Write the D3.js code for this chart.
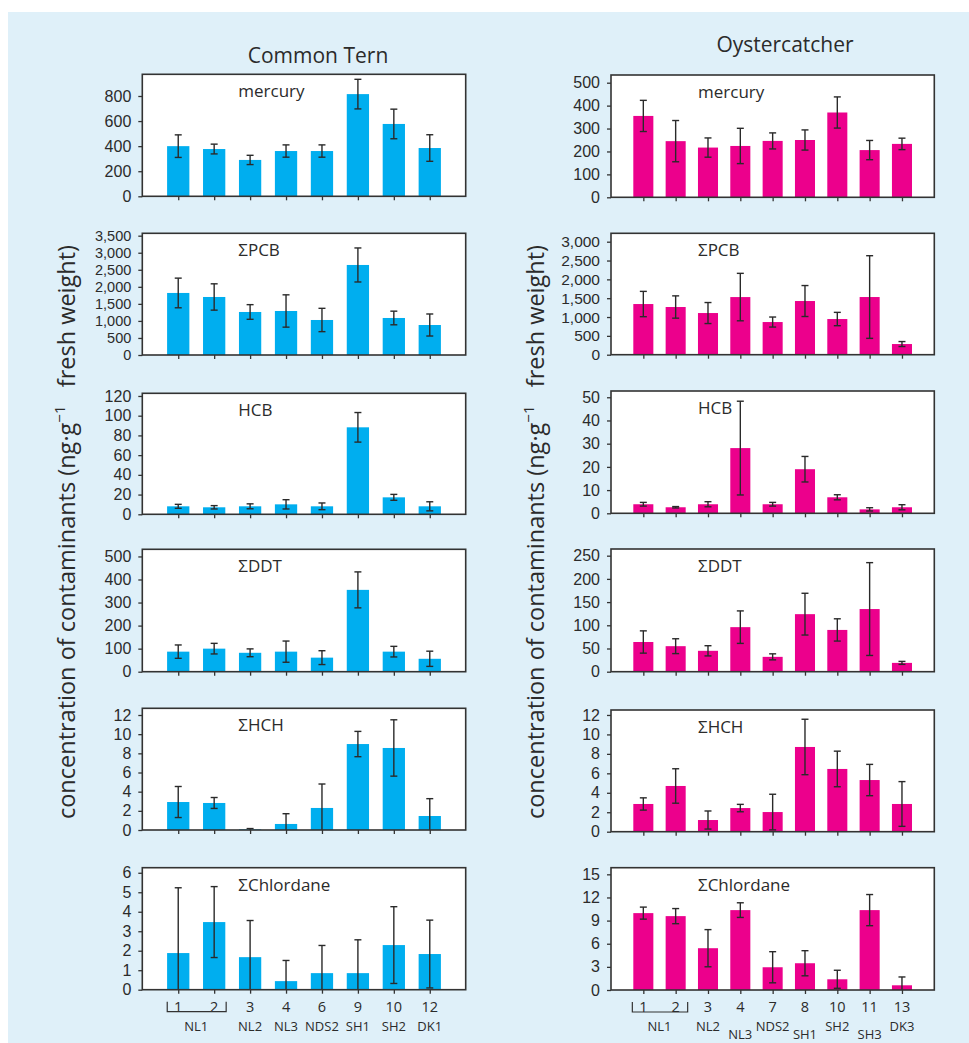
<!DOCTYPE html>
<html>
<head>
<meta charset="utf-8">
<script src="https://cdn.jsdelivr.net/npm/d3@7"></script>
<style>
  html, body { margin: 0; padding: 0; background: #ffffff; }
  svg { display: block; }
  text { font-family: "Open Sans", "DejaVu Sans", sans-serif; fill: #2b2b2b; }
</style>
</head>
<body>
<svg id="chart" width="969" height="1043"></svg>
<script>
// ---- Contaminants (one panel row each) ----
const contaminants = ["mercury", "ΣPCB", "HCB", "ΣDDT", "ΣHCH", "ΣChlordane"];

// ---- Common Tern colonies ----
const ternColonies = ["1", "2", "3", "4", "6", "9", "10", "12"];
const ternSites = ["NL1", "NL1", "NL2", "NL3", "NDS2", "SH1", "SH2", "DK1"];

// ---- Oystercatcher colonies ----
const oysterColonies = ["1", "2", "3", "4", "7", "8", "10", "11", "13"];
const oysterSites = ["NL1", "NL1", "NL2", "NL3", "NDS2", "SH1", "SH2", "SH3", "DK3"];

// ---- Common Tern means and standard deviations (ng/g fresh weight) ----
const ternMercury        = [400, 377, 290, 361, 361, 815, 577, 385];
const ternMercurySd      = [90, 39, 37, 49, 49, 118, 118, 106];
const ternPCB            = [1820, 1702, 1262, 1291, 1027, 2641, 1086, 880];
const ternPCBSd          = [435, 386, 215, 474, 342, 499, 200, 323];
const ternHCB            = [8.1, 7.1, 8.1, 10.1, 8.1, 88.2, 17.2, 8.1];
const ternHCBSd          = [2.0, 1.7, 2.5, 4.7, 3.4, 15, 3.0, 4.6];
const ternDDT            = [87, 100, 82, 87, 61, 355, 87, 56];
const ternDDTSd          = [29, 23, 17, 46, 30, 78, 23, 33];
const ternHCH            = [2.92, 2.82, 0.07, 0.63, 2.30, 8.97, 8.56, 1.46];
const ternHCHSd          = [1.62, 0.57, 0.08, 1.07, 2.50, 1.32, 2.94, 1.81];
const ternChlordane      = [1.88, 3.47, 1.67, 0.44, 0.85, 0.85, 2.29, 1.83];
const ternChlordaneSd    = [3.35, 1.82, 1.88, 1.06, 1.42, 1.71, 1.97, 1.74];

// ---- Oystercatcher means and standard deviations (ng/g fresh weight) ----
const oysterMercury      = [355, 245, 217, 224, 246, 250, 370, 206, 233];
const oysterMercurySd    = [68, 90, 42, 77, 35, 44, 68, 42, 25];
const oysterPCB          = [1345, 1266, 1106, 1530, 867, 1425, 947, 1531, 283];
const oysterPCBSd        = [336, 296, 279, 630, 133, 411, 177, 1097, 66];
const oysterHCB          = [3.9, 2.6, 3.9, 28.1, 3.9, 19.0, 6.9, 1.7, 2.6];
const oysterHCBSd        = [0.8, 0.3, 1.1, 20.2, 0.8, 5.5, 1.1, 0.7, 1.1];
const oysterDDT          = [64, 55, 45, 96, 32, 124, 90, 135, 19];
const oysterDDTSd        = [24, 16, 11, 35, 6.5, 45, 24, 100, 3.2];
const oysterHCH          = [2.85, 4.70, 1.20, 2.43, 2.02, 8.71, 6.45, 5.31, 2.85];
const oysterHCHSd        = [0.63, 1.77, 0.93, 0.38, 1.83, 2.85, 1.83, 1.61, 2.30];
const oysterChlordane    = [9.97, 9.58, 5.42, 10.36, 2.95, 3.47, 1.39, 10.36, 0.61];
const oysterChlordaneSd  = [0.78, 0.98, 2.41, 0.95, 2.02, 1.63, 1.17, 2.02, 1.08];

// ---- Y-axis tick labels per panel ----
const ternTicks = [
  [0, 200, 400, 600, 800],
  [0, 500, 1000, 1500, 2000, 2500, 3000, 3500],
  [0, 20, 40, 60, 80, 100, 120],
  [0, 100, 200, 300, 400, 500],
  [0, 2, 4, 6, 8, 10, 12],
  [0, 1, 2, 3, 4, 5, 6]
];
const oysterTicks = [
  [0, 100, 200, 300, 400, 500],
  [0, 500, 1000, 1500, 2000, 2500, 3000],
  [0, 10, 20, 30, 40, 50],
  [0, 50, 100, 150, 200, 250],
  [0, 2, 4, 6, 8, 10, 12],
  [0, 3, 6, 9, 12, 15]
];
// Upper end of each value axis (top of the plot frame)
const ternYMax   = [973, 3570, 122.7, 531, 12.7, 6.26];
const oysterYMax = [533.6, 3223, 52.7, 264.4, 12.51, 15.86];

// ---- Layout ----
const svg = d3.select("#chart");
svg.append("rect").attr("x", 8).attr("y", 12).attr("width", 961).attr("height", 1031)
  .attr("fill", "#dff0f9");

const columns = [
  {
    title: "Common Tern", titleX: 318, titleY: 63,
    colonies: ternColonies, sites: ternSites,
    means: [ternMercury, ternPCB, ternHCB, ternDDT, ternHCH, ternChlordane],
    sds: [ternMercurySd, ternPCBSd, ternHCBSd, ternDDTSd, ternHCHSd, ternChlordaneSd],
    ticks: ternTicks, ymax: ternYMax,
    tickFont: [16, 14.5, 16, 16, 16, 16],
    color: "#00aeef",
    x0: 142.3, x1: 465.7,
    tops:    [74.3, 233.3, 393.3, 549.3, 708.3, 867.7],
    bottoms: [196.3, 355, 514.3, 671.7, 830, 989.7],
    labelDx: 96, axisTitleX: 75,
    siteRow: {}
  },
  {
    title: "Oystercatcher", titleX: 785, titleY: 52,
    colonies: oysterColonies, sites: oysterSites,
    means: [oysterMercury, oysterPCB, oysterHCB, oysterDDT, oysterHCH, oysterChlordane],
    sds: [oysterMercurySd, oysterPCBSd, oysterHCBSd, oysterDDTSd, oysterHCHSd, oysterChlordaneSd],
    ticks: oysterTicks, ymax: oysterYMax,
    tickFont: [16, 15.5, 16, 16, 16, 16],
    color: "#ec008c",
    x0: 611, x1: 934.3,
    tops:    [75, 233.3, 391, 549, 710, 867.7],
    bottoms: [197.3, 354.7, 513.3, 671.7, 831.7, 990],
    labelDx: 87, axisTitleX: 544,
    siteRow: { "NL3": 2, "SH1": 2, "SH3": 2 }
  }
];

const frameColor = "#333333";
const fmtComma = d3.format(",");

columns.forEach(col => {
  // column title
  svg.append("text")
    .attr("x", col.titleX).attr("y", col.titleY)
    .attr("text-anchor", "middle")
    .style("font-size", "21px")
    .text(col.title);

  // shared value-axis title
  const yt = svg.append("text")
    .attr("transform", `translate(${col.axisTitleX},532) rotate(-90)`)
    .attr("text-anchor", "middle")
    .style("font-size", "23.5px");
  yt.append("tspan").text("concentration of contaminants (ng·g");
  yt.append("tspan").attr("dy", -10).style("font-size", "15px").text("−1");
  yt.append("tspan").attr("dy", 10).text("\u00a0\u00a0\u00a0fresh weight)");

  const x = d3.scalePoint()
    .domain(col.colonies)
    .range([col.x0, col.x1])
    .padding(1);
  const barW = x.step() * 0.62;

  contaminants.forEach((name, i) => {
    const top = col.tops[i], bottom = col.bottoms[i];
    const y = d3.scaleLinear().domain([0, col.ymax[i]]).range([bottom, top]);
    const g = svg.append("g");

    // plot frame
    g.append("rect")
      .attr("x", col.x0).attr("y", top)
      .attr("width", col.x1 - col.x0).attr("height", bottom - top)
      .attr("fill", "#ffffff");

    const means = col.means[i], sds = col.sds[i];
    const rows = col.colonies.map((c, k) => ({ c, v: means[k], sd: sds[k] }));

    // bars
    g.selectAll("rect.bar").data(rows).join("rect")
      .attr("class", "bar")
      .attr("x", d => x(d.c) - barW / 2)
      .attr("width", barW)
      .attr("y", d => y(d.v))
      .attr("height", d => y(0) - y(d.v))
      .attr("fill", col.color);

    // error bars (clipped at zero; no lower cap when clipped)
    const eb = g.selectAll("g.err").data(rows).join("g").attr("class", "err")
      .attr("stroke", "#2a2a2a").attr("stroke-width", 1.4);
    eb.append("line")
      .attr("x1", d => x(d.c)).attr("x2", d => x(d.c))
      .attr("y1", d => y(d.v + d.sd))
      .attr("y2", d => y(Math.max(0, d.v - d.sd)));
    eb.append("line")
      .attr("x1", d => x(d.c) - 3.5).attr("x2", d => x(d.c) + 3.5)
      .attr("y1", d => y(d.v + d.sd)).attr("y2", d => y(d.v + d.sd));
    eb.filter(d => d.v - d.sd >= 0).append("line")
      .attr("x1", d => x(d.c) - 3.5).attr("x2", d => x(d.c) + 3.5)
      .attr("y1", d => y(d.v - d.sd)).attr("y2", d => y(d.v - d.sd));

    // frame outline
    g.append("rect")
      .attr("x", col.x0).attr("y", top)
      .attr("width", col.x1 - col.x0).attr("height", bottom - top)
      .attr("fill", "none").attr("stroke", frameColor).attr("stroke-width", 1.6);

    // value axis
    const yAxis = d3.axisLeft(y)
      .tickValues(col.ticks[i])
      .tickSize(4)
      .tickPadding(7)
      .tickFormat(d => fmtComma(d));
    const ya = g.append("g").attr("transform", `translate(${col.x0},0)`).call(yAxis);
    ya.select(".domain").remove();
    ya.selectAll(".tick line").attr("stroke", frameColor).attr("stroke-width", 1.3);
    ya.selectAll(".tick text")
      .style("font-family", "\"Liberation Sans\", Arial, sans-serif")
      .style("font-size", col.tickFont[i] + "px").attr("fill", "#333");

    // category ticks
    const xAxis = d3.axisBottom(x).tickSize(4).tickFormat("");
    const xa = g.append("g").attr("transform", `translate(0,${bottom})`).call(xAxis);
    xa.select(".domain").remove();
    xa.selectAll(".tick line").attr("stroke", frameColor).attr("stroke-width", 1.3);

    // panel label
    g.append("text")
      .attr("x", col.x0 + col.labelDx).attr("y", top + 23)
      .style("font-size", "17px")
      .text(name);

    // colony numbers and site names under the bottom panel
    if (i === contaminants.length - 1) {
      const lab = svg.append("g").attr("fill", "#333");
      lab.selectAll("text.num").data(col.colonies).join("text")
        .attr("class", "num")
        .attr("x", d => x(d)).attr("y", bottom + 22)
        .attr("text-anchor", "middle")
        .style("font-size", "14.5px")
        .text(d => d);

      // bracket joining colonies 1 and 2 (site NL1)
      const bx0 = x(col.colonies[0]) - 11, bx1 = x(col.colonies[1]) + 12;
      const by = bottom + 22;
      lab.append("path")
        .attr("d", `M${bx0},${by - 10}V${by}H${bx1}V${by - 10}`)
        .attr("fill", "none").attr("stroke", frameColor).attr("stroke-width", 1.2);

      const siteLabels = [];
      col.sites.forEach((s, k) => {
        if (k === 1) return;
        const xc = k === 0 ? (x(col.colonies[0]) + x(col.colonies[1])) / 2 : x(col.colonies[k]);
        siteLabels.push({ s, xc, row: col.siteRow[s] || 0 });
      });
      lab.selectAll("text.site").data(siteLabels).join("text")
        .attr("class", "site")
        .attr("x", d => d.xc)
        .attr("y", d => d.row === 2 ? 1039 : bottom + 41)
        .attr("text-anchor", "middle")
        .style("font-size", "13px")
        .text(d => d.s);
    }
  });
});
</script>
</body>
</html>
